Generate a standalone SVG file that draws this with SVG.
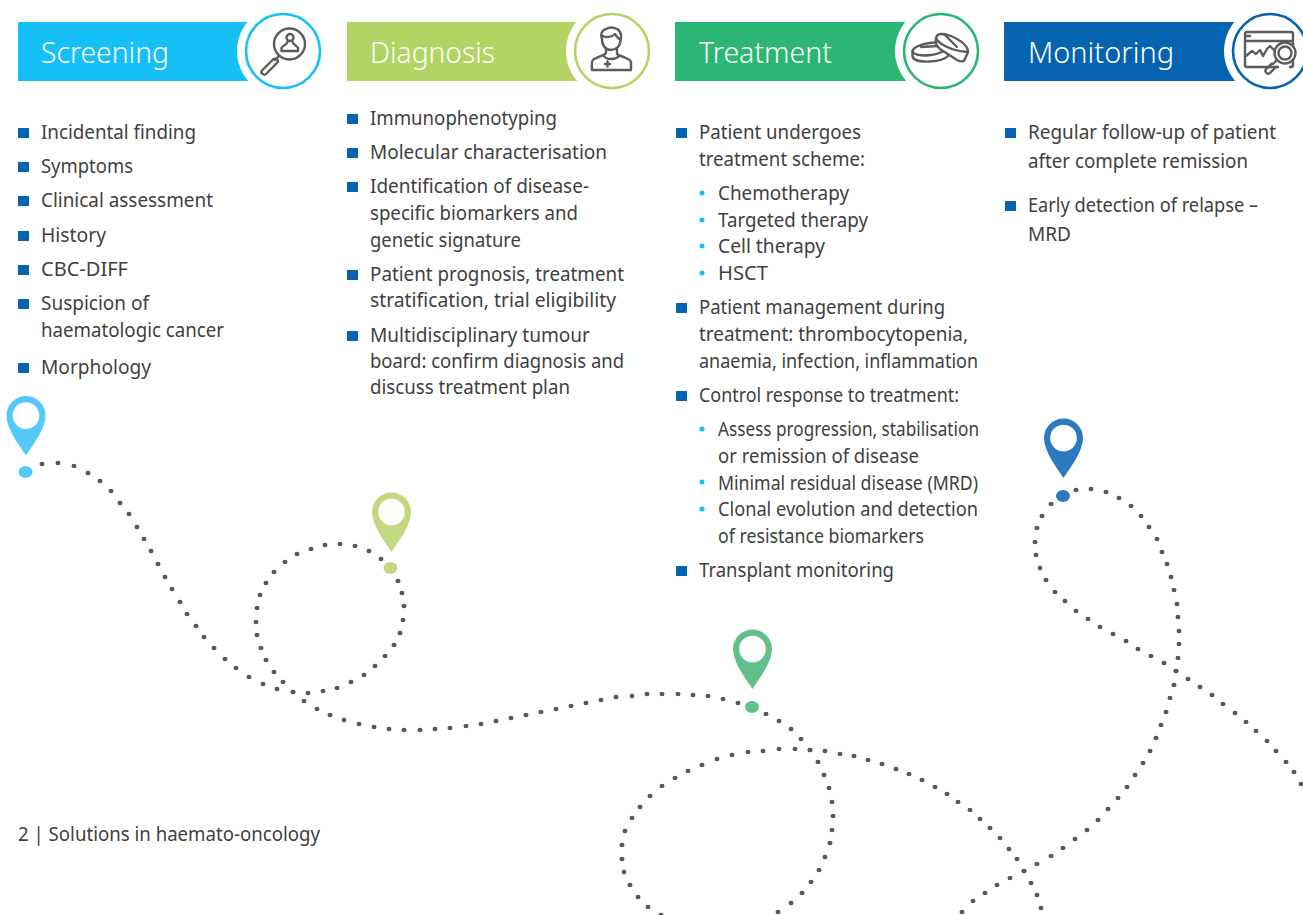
<svg xmlns="http://www.w3.org/2000/svg" width="1303" height="915" viewBox="0 0 1303 915">
<style>
text{font-family:"Noto Sans","Open Sans","Liberation Sans",sans-serif;fill:#404040;font-size:19.5px}
.h{font-size:28.5px;fill:#fff;font-weight:300}
.ic{fill:none;stroke:#5c5c5c;stroke-width:2.4;stroke-linecap:round;stroke-linejoin:round}
.sq{fill:#0563b0}
.bu{fill:#16bff5}
.route{fill:none;stroke:none;marker-start:url(#d);marker-mid:url(#d);marker-end:url(#d)}
</style>
<defs>
<marker id="d" markerUnits="userSpaceOnUse" markerWidth="8" markerHeight="8" refX="4" refY="4" overflow="visible"><ellipse cx="4" cy="4" rx="2.5" ry="2.2" fill="#575757"/></marker>
<rect id="s" class="sq" width="11" height="10"/>
<path id="pin" d="M0 60C-8 48-19.500 33-19.500 20A19.500 19.500 0 0 1 19.500 20C19.500 33 8 48 0 60ZM0 6.700A13.300 13.300 0 1 0 0 33.300A13.300 13.300 0 1 0 0 6.700Z" fill-rule="evenodd"/>
</defs>
<rect width="1303" height="915" fill="#fff"/>
<g id="connectors">
<polyline class="route" points="42,464 58,463 74,466 88,473 100,481 111,491 120,503 129,514 137,527 144,539 151,551 158,564 165,577 172,589 180,602 187,614 196,626 204,637 214,648 225,659 236,668 249,677 263,684 277,689 293,692 308,693 323,691 337,688 351,682 364,675 375,666 385,656 394,645 400,633 403,620 404,606 402,593 398,581 390,568 381,559 369,551 355,546 340,544 325,545 311,549 297,554 285,562 274,572 266,583 260,595 257,608 256,622 257,635 261,648 266,660 274,672 283,682 293,692 304,701 317,709 330,715 344,720 359,724 374,727 389,729 404,730 420,730 435,729 450,728 466,726 481,724 496,721 511,718 526,715 541,712 556,709 571,706 586,703 601,700 616,697 632,696 647,694 662,694 678,694 693,695 708,696 723,699 738,703 752,707 766,714 779,721 791,729 801,739 810,750 818,762 824,775 829,788 832,802 833,816 832,830 830,843 825,857 819,870 811,882 802,893 791,903 778,912 661,915 648,907 638,897 630,885 624,872 622,859 622,845 625,831 632,818 640,807 650,796 662,786 675,778 688,771 702,765 717,759 732,755 748,752 763,751 779,749 795,749 810,750 825,751 840,754 854,756 868,760 882,764 896,769 909,774 922,780 935,787 947,794 958,802 970,810 980,819 990,828 1000,838 1009,849 1017,859 1024,871 1031,883 1037,895 1041,908"/>
<polyline class="route" points="962,912 973,901 985,893 997,885 1010,878 1024,871 1037,864 1051,856 1063,848 1075,839 1087,830 1098,820 1108,809 1118,798 1127,787 1135,775 1143,763 1150,751 1156,738 1161,725 1166,712 1170,698 1174,685 1176,671 1178,658 1179,644 1179,631 1178,617 1177,604 1174,590 1171,577 1167,564 1162,552 1157,539 1149,527 1141,516 1131,506 1119,498 1106,492 1091,489 1076,490 1063,496 1051,504 1042,516 1037,528 1035,542 1036,555 1040,568 1046,580 1055,592 1065,601 1076,611 1088,619 1100,627 1113,634 1126,641 1138,649 1151,656 1164,663 1176,671 1188,679 1200,687 1212,695 1223,704 1235,713 1246,722 1256,731 1267,741 1276,751 1286,762 1294,772 1301,784"/>
</g>
<g id="pin-screening" fill="#54c8f7"><use href="#pin" x="26" y="395.500"/><ellipse cx="25.500" cy="472" rx="7" ry="6"/></g>
<g id="pin-diagnosis" fill="#c2d880"><use href="#pin" x="391.500" y="492"/><ellipse cx="390.500" cy="568" rx="7" ry="6"/></g>
<g id="pin-treatment" fill="#64c08a"><use href="#pin" x="752.500" y="629"/><ellipse cx="752" cy="707" rx="7" ry="6"/></g>
<g id="pin-monitoring" fill="#2c79c0"><use href="#pin" x="1063.500" y="418"/><ellipse cx="1063" cy="496" rx="7" ry="6"/></g>

<g id="screening">
<rect x="18" y="22" width="240" height="59" fill="#16bff5"/>
<circle cx="283" cy="51" r="46" fill="#fff"/>
<circle cx="283" cy="51" r="37" fill="#fff" stroke="#16bff5" stroke-width="2.6"/>
<text class="h" x="41" y="63" textLength="128" lengthAdjust="spacingAndGlyphs">Screening</text>
<g class="ic"><circle cx="289.500" cy="44" r="15.500"/><circle cx="290" cy="37.500" r="3.500"/><path d="M287.500 41.500C287.500 45 282 45.500 281.500 48V51H298V48C297.500 45.500 292.500 45 292.500 41.500"/><path d="M279 56L275 60M273 59.500L262 70.500C260 73 264 76 266 74L277.500 62.500C279 60 275.500 57.500 273 59.500Z"/></g>
<use href="#s" x="18" y="128"/><text x="41" y="139" textLength="155" lengthAdjust="spacingAndGlyphs">Incidental finding</text>
<use href="#s" x="18" y="162"/><text x="41" y="173" textLength="92" lengthAdjust="spacingAndGlyphs">Symptoms</text>
<use href="#s" x="18" y="196"/><text x="41" y="207" textLength="172" lengthAdjust="spacingAndGlyphs">Clinical assessment</text>
<use href="#s" x="18" y="231"/><text x="41" y="242" textLength="65" lengthAdjust="spacingAndGlyphs">History</text>
<use href="#s" x="18" y="265"/><text x="41" y="276" textLength="87" lengthAdjust="spacingAndGlyphs">CBC-DIFF</text>
<use href="#s" x="18" y="299"/><text x="41" y="310" textLength="108" lengthAdjust="spacingAndGlyphs">Suspicion of</text><text x="41" y="337" textLength="183" lengthAdjust="spacingAndGlyphs">haematologic cancer</text>
<use href="#s" x="18" y="363"/><text x="41" y="374" textLength="110" lengthAdjust="spacingAndGlyphs">Morphology</text>
</g>

<g id="diagnosis">
<rect x="347" y="22" width="240" height="59" fill="#b2d465"/>
<circle cx="612" cy="51" r="46" fill="#fff"/>
<circle cx="612" cy="51" r="37" fill="#fff" stroke="#b2d465" stroke-width="2.6"/>
<text class="h" x="370" y="63" textLength="125" lengthAdjust="spacingAndGlyphs">Diagnosis</text>
<g class="ic"><path d="M602 39C600 34 602 30 606 29C611 26 618 28 620 32C622 35 621 38 620.500 41M602 39C602 46 606 50 611 50C616 50 620.500 46 620.500 40C618 38 616 36 615 34C612 37 606 38 603 36"/><path d="M606 49V53C604 56 596 57 593 60C591 62 592 66 592 70H631V62C630 58 621 57 617 54V49"/><path d="M604 56C606 60 616 60 619 56"/><path d="M605 64h5M607.500 61.500v5"/></g>
<use href="#s" x="347" y="114"/><text x="370" y="125" textLength="187" lengthAdjust="spacingAndGlyphs">Immunophenotyping</text>
<use href="#s" x="347" y="148"/><text x="370" y="159" textLength="237" lengthAdjust="spacingAndGlyphs">Molecular characterisation</text>
<use href="#s" x="347" y="182"/><text x="370" y="193" textLength="219" lengthAdjust="spacingAndGlyphs">Identification of disease-</text><text x="370" y="220" textLength="208" lengthAdjust="spacingAndGlyphs">specific biomarkers and</text><text x="370" y="247" textLength="151" lengthAdjust="spacingAndGlyphs">genetic signature</text>
<use href="#s" x="347" y="270"/><text x="370" y="281" textLength="254" lengthAdjust="spacingAndGlyphs">Patient prognosis, treatment</text><text x="370" y="307" textLength="246" lengthAdjust="spacingAndGlyphs">stratification, trial eligibility</text>
<use href="#s" x="347" y="331"/><text x="370" y="342" textLength="220" lengthAdjust="spacingAndGlyphs">Multidisciplinary tumour</text><text x="370" y="368" textLength="254" lengthAdjust="spacingAndGlyphs">board: confirm diagnosis and</text><text x="370" y="394" textLength="200" lengthAdjust="spacingAndGlyphs">discuss treatment plan</text>
</g>

<g id="treatment">
<rect x="675" y="22" width="240" height="59" fill="#2cb673"/>
<circle cx="941" cy="51" r="46" fill="#fff"/>
<circle cx="941" cy="51" r="37" fill="#fff" stroke="#2cb673" stroke-width="2.6"/>
<text class="h" x="699" y="63" textLength="133" lengthAdjust="spacingAndGlyphs">Treatment</text>
<g class="ic"><ellipse cx="930" cy="49" rx="17.500" ry="6" transform="rotate(-8 930 49)"/><path d="M912.500 51V56C913 60 920 62 930 61.500C938 61 945 59 948 56V50"/><path d="M921 47L938 46"/><path style="fill:#fff" d="M936 38C935 43 936 46 940 49L957 60C961 62 964 62 965 59L968 52C968 46 960 40 951 36C943 33 937 33 936 38Z"/><path d="M936 38C938 43 950 51 968 52M944 34L957 47"/></g>
<use href="#s" x="676" y="128"/><text x="699" y="139" textLength="162" lengthAdjust="spacingAndGlyphs">Patient undergoes</text><text x="699" y="166" textLength="166" lengthAdjust="spacingAndGlyphs">treatment scheme:</text>
<circle class="bu" cx="702" cy="193" r="2.500"/><text x="718" y="200" textLength="131" lengthAdjust="spacingAndGlyphs">Chemotherapy</text>
<circle class="bu" cx="702" cy="220" r="2.500"/><text x="718" y="227" textLength="150" lengthAdjust="spacingAndGlyphs">Targeted therapy</text>
<circle class="bu" cx="702" cy="246" r="2.500"/><text x="718" y="253" textLength="107" lengthAdjust="spacingAndGlyphs">Cell therapy</text>
<circle class="bu" cx="702" cy="273" r="2.500"/><text x="718" y="280" textLength="50" lengthAdjust="spacingAndGlyphs">HSCT</text>
<use href="#s" x="676" y="303"/><text x="699" y="314" textLength="246" lengthAdjust="spacingAndGlyphs">Patient management during</text><text x="699" y="341" textLength="269" lengthAdjust="spacingAndGlyphs">treatment: thrombocytopenia,</text><text x="699" y="368" textLength="279" lengthAdjust="spacingAndGlyphs">anaemia, infection, inflammation</text>
<use href="#s" x="676" y="391"/><text x="699" y="402" textLength="260" lengthAdjust="spacingAndGlyphs">Control response to treatment:</text>
<circle class="bu" cx="702" cy="429" r="2.500"/><text x="718" y="436" textLength="261" lengthAdjust="spacingAndGlyphs">Assess progression, stabilisation</text><text x="718" y="463" textLength="201" lengthAdjust="spacingAndGlyphs">or remission of disease</text>
<circle class="bu" cx="702" cy="482" r="2.500"/><text x="718" y="490" textLength="260" lengthAdjust="spacingAndGlyphs">Minimal residual disease (MRD)</text>
<circle class="bu" cx="702" cy="509" r="2.500"/><text x="718" y="516" textLength="260" lengthAdjust="spacingAndGlyphs">Clonal evolution and detection</text><text x="718" y="543" textLength="206" lengthAdjust="spacingAndGlyphs">of resistance biomarkers</text>
<use href="#s" x="676" y="566"/><text x="699" y="577" textLength="195" lengthAdjust="spacingAndGlyphs">Transplant monitoring</text>
</g>

<g id="monitoring">
<rect x="1004" y="22" width="240" height="59" fill="#0563b0"/>
<circle cx="1270" cy="51" r="46" fill="#fff"/>
<circle cx="1270" cy="51" r="37" fill="#fff" stroke="#0563b0" stroke-width="2.6"/>
<text class="h" x="1028" y="63" textLength="146" lengthAdjust="spacingAndGlyphs">Monitoring</text>
<g class="ic"><path d="M1278 67H1247C1246 67 1245 66 1245 65V34C1245 33 1246 32 1247 32H1291C1292 32 1293 33 1293 34V65C1293 66 1292 67 1291 67H1290M1245 41H1293"/><path d="M1247 36h3"/><path d="M1246 56L1252 51L1256 54L1260 50L1263 56L1267 49L1270 46L1274 50"/><circle cx="1285" cy="53" r="10.500" style="fill:#fff"/><circle cx="1285" cy="53" r="6.500"/><path d="M1277 60L1273 64M1272 63.500L1266 69C1264 72 1268 75 1270 73L1276 67"/></g>
<use href="#s" x="1005" y="128"/><text x="1028" y="139" textLength="248" lengthAdjust="spacingAndGlyphs">Regular follow-up of patient</text><text x="1028" y="168" textLength="220" lengthAdjust="spacingAndGlyphs">after complete remission</text>
<use href="#s" x="1005" y="201"/><text x="1028" y="212" textLength="230" lengthAdjust="spacingAndGlyphs">Early detection of relapse –</text><text x="1028" y="241" textLength="43" lengthAdjust="spacingAndGlyphs">MRD</text>
</g>
<text id="footer" x="18" y="841" textLength="302" lengthAdjust="spacingAndGlyphs" style="font-size:19px">2 | Solutions in haemato-oncology</text>
</svg>
